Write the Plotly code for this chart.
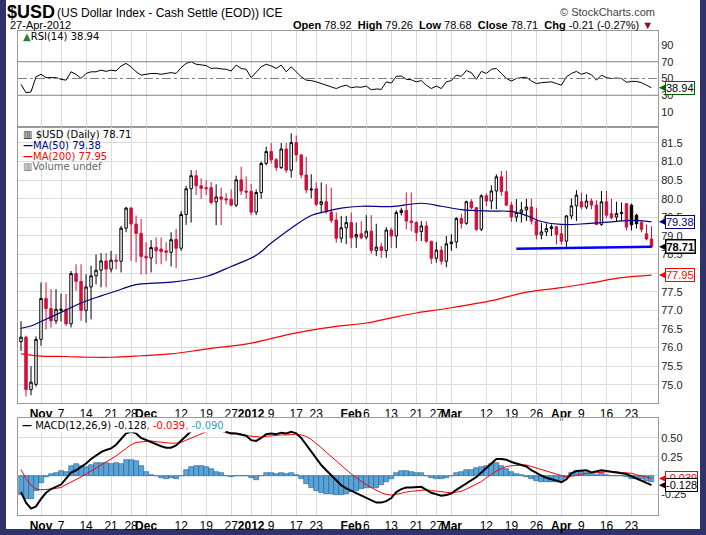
import pandas as pd
import plotly.graph_objects as go
from plotly.subplots import make_subplots

# ---- trading calendar (ICE closed on these weekdays) ----
holidays = ["2011-11-24", "2011-12-26", "2012-01-02", "2012-01-16", "2012-02-20", "2012-04-06"]
days = [d.strftime("%Y-%m-%d") for d in pd.bdate_range("2011-10-26", "2012-04-27")]
days = [d for d in days if d not in holidays]
pos = {d: i for i, d in enumerate(days)}
xs = list(range(len(days)))

# ---- $USD daily OHLC ----
opens = [76.16, 76.28, 74.87, 75.01, 76.22, 77.32, 77.05, 76.72, 77.00, 77.03,
         76.64, 77.99, 77.78, 77.00, 77.63, 77.93, 78.08, 78.33, 78.11, 78.35,
         78.32, 79.21, 79.75, 79.32, 79.07, 78.45, 78.41, 78.69, 78.65, 78.60,
         78.56, 78.91, 78.67, 79.58, 80.27, 80.62, 80.35, 80.30, 80.30, 79.92,
         80.05, 80.00, 79.99, 79.83, 80.51, 80.21, 80.20, 79.64, 80.17, 80.95,
         81.27, 81.05, 80.84, 81.34, 80.77, 81.51, 81.18, 80.64, 80.24, 80.27,
         79.85, 79.92, 79.64, 79.43, 78.94, 79.22, 79.36, 78.97, 79.06, 78.97,
         79.13, 78.61, 78.71, 78.61, 79.16, 79.00, 79.63, 79.69, 79.40, 79.36,
         79.12, 79.27, 78.86, 78.40, 78.62, 78.32, 78.79, 78.84, 79.47, 79.34,
         79.92, 79.76, 79.18, 80.08, 79.94, 80.21, 80.59, 80.19, 79.83, 79.51,
         79.63, 79.70, 79.78, 79.40, 79.03, 79.11, 79.20, 79.25, 79.06, 78.86,
         79.54, 79.81, 79.92, 79.78, 79.94, 79.83, 79.31, 79.92, 79.60, 79.51,
         79.60, 79.87, 79.83, 79.56, 79.36, 79.06, 78.92]
highs = [76.71, 76.32, 75.50, 76.30, 77.75, 77.75, 77.57, 77.57, 77.45, 77.44,
         78.06, 78.24, 78.24, 77.97, 78.20, 78.50, 78.54, 78.54, 78.60, 78.50,
         79.27, 79.78, 79.78, 79.55, 79.46, 78.83, 78.89, 78.96, 78.96, 78.83,
         79.10, 79.19, 79.67, 80.35, 80.77, 80.77, 80.55, 80.50, 80.45, 80.39,
         80.30, 80.15, 80.25, 80.62, 80.86, 80.60, 80.40, 80.25, 81.00, 81.40,
         81.50, 81.10, 81.50, 81.50, 81.76, 81.70, 81.20, 81.13, 80.66, 80.44,
         80.44, 80.39, 80.30, 79.63, 79.54, 79.54, 79.63, 79.36, 79.40, 79.56,
         79.56, 79.33, 78.82, 79.24, 79.22, 79.69, 79.76, 80.17, 80.17, 79.40,
         79.40, 79.40, 78.87, 78.84, 78.73, 79.00, 79.05, 79.51, 79.60, 79.95,
         79.99, 79.78, 80.12, 80.15, 80.36, 80.66, 80.75, 80.75, 79.92, 79.99,
         79.92, 80.00, 80.00, 79.76, 79.35, 79.34, 79.31, 79.26, 79.29, 79.56,
         80.01, 80.23, 80.17, 80.12, 80.01, 79.96, 80.21, 80.21, 80.00, 79.92,
         79.90, 79.87, 79.87, 79.60, 79.40, 79.31, 79.26]
lows = [75.91, 74.69, 74.72, 74.95, 76.05, 76.49, 76.54, 76.63, 76.70, 76.58,
        76.54, 77.53, 76.72, 76.67, 76.76, 77.70, 77.62, 77.62, 78.02, 78.10,
        78.02, 79.10, 78.33, 78.29, 77.97, 77.97, 78.02, 78.24, 78.24, 78.33,
        78.18, 78.14, 78.60, 79.30, 79.36, 80.10, 80.00, 80.10, 79.85, 79.29,
        79.29, 79.85, 79.80, 79.78, 80.10, 80.00, 79.56, 79.56, 80.00, 80.90,
        80.95, 80.75, 80.80, 80.70, 80.57, 81.00, 80.55, 80.15, 80.01, 79.80,
        79.63, 79.60, 79.35, 78.82, 78.82, 78.78, 78.68, 78.68, 78.91, 78.91,
        78.52, 78.46, 78.41, 78.41, 78.68, 78.67, 79.55, 79.18, 79.13, 78.86,
        78.86, 78.82, 78.25, 78.28, 78.23, 78.16, 78.60, 78.67, 79.20, 79.30,
        79.72, 79.13, 79.13, 79.80, 79.72, 79.72, 80.08, 79.81, 79.38, 79.38,
        79.36, 79.40, 79.31, 78.91, 78.91, 79.00, 79.00, 78.77, 78.77, 78.71,
        79.45, 79.40, 79.72, 79.72, 79.72, 79.30, 79.27, 79.49, 79.45, 79.40,
        79.40, 79.15, 79.15, 79.20, 79.10, 78.88, 78.68]
closes = [76.28, 74.87, 75.07, 76.22, 77.32, 77.05, 76.72, 77.03, 77.03, 76.64,
          77.99, 77.78, 77.00, 77.63, 77.93, 78.08, 78.33, 78.11, 78.35, 78.32,
          79.21, 79.75, 79.32, 79.07, 78.45, 78.41, 78.69, 78.60, 78.58, 78.56,
          78.90, 78.67, 79.58, 80.27, 80.62, 80.35, 80.28, 80.27, 79.90, 80.05,
          79.99, 79.97, 79.83, 80.51, 80.21, 80.18, 79.64, 80.17, 80.95, 81.27,
          81.05, 80.84, 81.34, 80.77, 81.51, 81.18, 80.64, 80.24, 80.26, 79.85,
          79.92, 79.65, 79.42, 78.94, 79.22, 79.36, 78.95, 79.04, 78.95, 79.13,
          78.61, 78.70, 78.61, 79.16, 79.00, 79.63, 79.69, 79.40, 79.36, 79.09,
          79.27, 78.86, 78.40, 78.62, 78.32, 78.79, 78.84, 79.47, 79.34, 79.92,
          79.76, 79.18, 80.08, 79.94, 80.21, 80.59, 80.19, 79.83, 79.51, 79.63,
          79.70, 79.78, 79.40, 79.03, 79.11, 79.20, 79.25, 79.04, 78.86, 79.54,
          79.81, 80.10, 79.78, 79.94, 79.83, 79.31, 79.92, 79.56, 79.49, 79.60,
          79.63, 79.24, 79.30, 79.33, 79.18, 78.92, 78.71]

# ---- moving averages (read at sample dates) ----
ma50_dates = ["2011-10-26", "2011-10-28", "2011-11-01", "2011-11-08", "2011-11-11", "2011-11-17",
              "2011-11-22", "2011-11-28", "2011-11-30", "2011-12-08", "2011-12-19", "2011-12-27",
              "2012-01-04", "2012-01-09", "2012-01-13", "2012-01-20", "2012-01-25", "2012-01-30",
              "2012-02-03", "2012-02-13", "2012-02-22", "2012-02-28", "2012-03-05", "2012-03-13",
              "2012-03-19", "2012-03-22", "2012-03-27", "2012-04-02", "2012-04-10", "2012-04-17",
              "2012-04-23", "2012-04-27"]
ma50_vals = [76.52, 76.58, 76.70, 77.01, 77.20, 77.39, 77.52, 77.66, 77.71, 77.76, 77.91, 78.18,
             78.48, 78.81, 79.21, 79.55, 79.66, 79.75, 79.80, 79.79, 79.88, 79.80, 79.71, 79.67,
             79.66, 79.55, 79.39, 79.31, 79.33, 79.38, 79.42, 79.38]
ma200_dates = ["2011-10-26", "2011-11-01", "2011-11-08", "2011-11-15", "2011-11-21", "2011-11-30",
               "2011-12-08", "2011-12-19", "2012-01-03", "2012-01-13", "2012-01-26", "2012-02-06",
               "2012-02-13", "2012-02-21", "2012-02-29", "2012-03-13", "2012-03-22", "2012-04-02",
               "2012-04-11", "2012-04-19", "2012-04-27"]
ma200_vals = [75.83, 75.77, 75.76, 75.74, 75.74, 75.78, 75.83, 75.96, 76.12, 76.37, 76.55, 76.66,
              76.80, 76.93, 77.05, 77.26, 77.49, 77.61, 77.74, 77.88, 77.95]

# support line drawn on the chart
trend_dates = ["2012-03-20", "2012-04-27"]
trend_vals = [78.66, 78.71]

# ---- RSI(14) ----
rsi = [43, 33, 34, 52, 55, 51, 51, 51, 49, 48,
       58, 55, 50, 56, 58, 58, 60, 58.5, 60, 59,
       65, 68, 64, 58, 54, 55, 56, 56, 55, 56,
       57, 56, 63, 68, 70, 67, 66, 65.5, 62, 62.5,
       61.5, 61, 59, 66, 62, 61, 51, 57, 64, 67,
       65, 62, 66, 58, 64, 58, 52, 48, 47.5, 46,
       44, 42, 40, 38, 40.5, 42, 39, 40, 39.5, 41,
       36.5, 37.5, 37, 46, 44.5, 52.5, 53, 49, 48.5, 46,
       47.5, 42, 38, 41, 38, 46, 47.5, 54, 52.5, 59.5,
       57, 49, 58.5, 56, 61, 62, 56, 50, 47, 50,
       51, 51.5, 47, 44, 45, 45.5, 46, 44, 42, 52,
       56, 58.5, 55, 57, 54.5, 48, 54, 51, 50, 50.5,
       50, 45.5, 46.5, 46.5, 45, 42, 38.94]

# ---- MACD(12,26,9) ----
macd = [-0.22, -0.36, -0.44, -0.41, -0.31, -0.23, -0.18, -0.15, -0.12, -0.04,
        0.04, 0.07, 0.11, 0.16, 0.22, 0.27, 0.31, 0.34, 0.36, 0.41,
        0.49, 0.56, 0.58, 0.56, 0.50, 0.47, 0.45, 0.42, 0.39, 0.37,
        0.37, 0.40, 0.46, 0.53, 0.59, 0.62, 0.65, 0.65, 0.63, 0.61,
        0.59, 0.57, 0.56, 0.56, 0.55, 0.53, 0.47, 0.46, 0.50, 0.55,
        0.56, 0.55, 0.57, 0.56, 0.58, 0.56, 0.50, 0.41, 0.31, 0.22,
        0.14, 0.07, 0.00, -0.07, -0.13, -0.17, -0.20, -0.23, -0.26, -0.29,
        -0.33, -0.36, -0.36, -0.34, -0.30, -0.22, -0.18, -0.16, -0.16, -0.16,
        -0.15, -0.19, -0.23, -0.25, -0.27, -0.26, -0.24, -0.19, -0.15, -0.10,
        -0.06, -0.02, 0.04, 0.10, 0.17, 0.22, 0.22, 0.21, 0.18, 0.16,
        0.15, 0.12, 0.07, 0.03, 0.00, -0.03, -0.05, -0.08, -0.09, -0.05,
        0.03, 0.06, 0.07, 0.07, 0.04, 0.05, 0.07, 0.06, 0.05, 0.04,
        0.03, 0.02, -0.01, -0.04, -0.06, -0.09, -0.128]
signal = [0.08, -0.04, -0.13, -0.18, -0.19, -0.19, -0.18, -0.17, -0.16, -0.12,
          -0.09, -0.06, -0.02, 0.02, 0.06, 0.10, 0.14, 0.17, 0.21, 0.26,
          0.31, 0.36, 0.41, 0.44, 0.45, 0.46, 0.46, 0.45, 0.44, 0.44,
          0.43, 0.43, 0.44, 0.47, 0.50, 0.53, 0.56, 0.58, 0.59, 0.60,
          0.59, 0.58, 0.57, 0.56, 0.55, 0.53, 0.52, 0.52, 0.51, 0.52,
          0.53, 0.53, 0.54, 0.54, 0.55, 0.55, 0.54, 0.52, 0.48, 0.43,
          0.37, 0.31, 0.25, 0.19, 0.13, 0.07, 0.02, -0.03, -0.08, -0.12,
          -0.16, -0.20, -0.23, -0.25, -0.26, -0.25, -0.24, -0.22, -0.21, -0.20,
          -0.19, -0.19, -0.20, -0.21, -0.22, -0.23, -0.23, -0.22, -0.21, -0.18,
          -0.15, -0.12, -0.08, -0.03, 0.02, 0.06, 0.09, 0.12, 0.13, 0.14,
          0.14, 0.14, 0.12, 0.10, 0.08, 0.05, 0.03, 0.01, -0.01, -0.02,
          -0.01, 0.00, 0.02, 0.03, 0.03, 0.04, 0.04, 0.05, 0.05, 0.05,
          0.04, 0.04, 0.03, 0.01, -0.01, -0.02, -0.039]
hist = [-0.26, -0.31, -0.31, -0.20, -0.10, -0.02, 0.02, 0.04, 0.06, 0.05,
        0.13, 0.15, 0.13, 0.12, 0.14, 0.17, 0.17, 0.16, 0.15, 0.16,
        0.15, 0.21, 0.21, 0.19, 0.13, 0.05, 0.01, -0.01, -0.03, -0.04,
        -0.03, -0.04, -0.01, 0.07, 0.12, 0.13, 0.13, 0.12, 0.09, 0.05,
        0.03, 0.00, -0.02, -0.01, -0.01, 0.00, -0.03, -0.06, -0.01, 0.03,
        0.03, 0.02, 0.03, 0.02, 0.03, 0.01, -0.04, -0.11, -0.17, -0.21,
        -0.23, -0.24, -0.25, -0.26, -0.26, -0.24, -0.22, -0.20, -0.18, -0.17,
        -0.17, -0.16, -0.13, -0.09, -0.04, 0.03, 0.06, 0.06, 0.05, 0.04,
        0.04, 0.00, -0.03, -0.04, -0.05, -0.03, -0.01, 0.03, 0.05, 0.07,
        0.08, 0.10, 0.11, 0.13, 0.15, 0.16, 0.13, 0.09, 0.05, 0.02,
        0.01, -0.02, -0.05, -0.07, -0.08, -0.08, -0.08, -0.09, -0.08, -0.03,
        0.04, 0.06, 0.05, 0.04, 0.01, 0.01, 0.03, 0.01, 0.00, -0.01,
        -0.01, -0.02, -0.04, -0.05, -0.05, -0.07, -0.09]

# ---- axis labels ----
tick_dates = ["2011-11-01", "2011-11-07", "2011-11-14", "2011-11-21", "2011-11-28", "2011-12-01",
              "2011-12-12", "2011-12-19", "2011-12-27", "2012-01-03", "2012-01-09", "2012-01-17",
              "2012-01-23", "2012-02-01", "2012-02-06", "2012-02-13", "2012-02-21", "2012-02-27",
              "2012-03-01", "2012-03-12", "2012-03-19", "2012-03-26", "2012-04-02", "2012-04-09",
              "2012-04-16", "2012-04-23"]
tick_text = ["<b>Nov</b>", "7", "14", "21", "28", "<b>Dec</b>", "12", "19", "27", "<b>2012</b>",
             "9", "17", "23", "<b>Feb</b>", "6", "13", "21", "27", "<b>Mar</b>", "12", "19", "26",
             "<b>Apr</b>", "9", "16", "23"]
month_dates = ["2011-11-01", "2011-12-01", "2012-01-03", "2012-02-01", "2012-03-01", "2012-04-02"]
price_ticks = [75.0, 75.5, 76.0, 76.5, 77.0, 77.5, 78.0, 78.5, 79.0, 79.5, 80.0, 80.5, 81.0, 81.5]
rsi_ticks = [10, 30, 50, 70, 90]
macd_ticks = [-0.25, 0.0, 0.25, 0.5]

RED = "#d0103a"
NAVY = "#000080"
FRAME = "#30336b"
GRID = "#dcdcdc"
TXT = "DejaVu Sans"
AX = "Liberation Sans"
NARROW = "Liberation Sans Narrow, Liberation Sans"

# figure pixel geometry (706 x 535)
L, R, T, B = 18, 658, 31, 515


def px(x):
    return (x - L) / (R - L)


def py(y):
    return (B - y) / (B - T)


fig = make_subplots(rows=3, cols=1, shared_xaxes=True, vertical_spacing=0)

# ---- candles grouped by StockCharts colouring ----
groups = {"up_black": [], "up_red": [], "dn_red": [], "dn_black": []}
for i in xs:
    prev = closes[i - 1] if i > 0 else opens[i]
    up = closes[i] >= opens[i]
    higher = closes[i] >= prev
    key = ("up_" if up else "dn_") + ("black" if higher else "red")
    groups[key].append(i)

styles = {"up_black": ("black", "white"), "up_red": (RED, "white"),
          "dn_red": (RED, RED), "dn_black": ("black", "black")}
for key, idx in groups.items():
    if not idx:
        continue
    lc, fc = styles[key]
    fig.add_trace(go.Candlestick(
        x=idx, open=[opens[i] for i in idx], high=[highs[i] for i in idx],
        low=[lows[i] for i in idx], close=[closes[i] for i in idx],
        increasing=dict(line=dict(color=lc, width=1), fillcolor=fc),
        decreasing=dict(line=dict(color=lc, width=1), fillcolor=fc),
        whiskerwidth=0, showlegend=False, hoverinfo="skip",
    ), row=2, col=1)

fig.add_trace(go.Scatter(x=[pos[d] for d in ma50_dates], y=ma50_vals, mode="lines",
                         line=dict(color=NAVY, width=1.2, shape="spline"),
                         showlegend=False, hoverinfo="skip"), row=2, col=1)
fig.add_trace(go.Scatter(x=[pos[d] for d in ma200_dates], y=ma200_vals, mode="lines",
                         line=dict(color="#ff0000", width=1.2, shape="spline"),
                         showlegend=False, hoverinfo="skip"), row=2, col=1)
fig.add_trace(go.Scatter(x=[pos[d] for d in trend_dates], y=trend_vals, mode="lines",
                         line=dict(color="#0000ff", width=2.5),
                         showlegend=False, hoverinfo="skip"), row=2, col=1)

# ---- RSI ----
fig.add_trace(go.Scatter(x=xs, y=rsi, mode="lines", line=dict(color="black", width=1),
                         showlegend=False, hoverinfo="skip"), row=1, col=1)
for lvl, dash in [(70, "solid"), (30, "solid"), (50, "dashdot")]:
    fig.add_hline(y=lvl, line=dict(color="#808080", width=1, dash=dash), row=1, col=1)

# ---- MACD ----
fig.add_trace(go.Bar(x=xs, y=hist, width=1.0,
                     marker=dict(color="#5ba3d6", line=dict(color="#1f5f8f", width=0.6)),
                     showlegend=False, hoverinfo="skip"), row=3, col=1)
fig.add_trace(go.Scatter(x=xs, y=signal, mode="lines", line=dict(color="#ff0000", width=1),
                         showlegend=False, hoverinfo="skip"), row=3, col=1)
fig.add_trace(go.Scatter(x=xs, y=macd, mode="lines", line=dict(color="black", width=2),
                         showlegend=False, hoverinfo="skip"), row=3, col=1)


# tick labels that sit right under a value tag are hidden, as on the original
def labels(ticks, covered, fmt):
    return ["" if any(abs(t - c) < 0.1 for c in covered) else format(t, fmt) for t in ticks]


# ---- axes ----
tickvals = [pos[d] for d in tick_dates]
fig.update_xaxes(range=[-0.6, 127.3], showgrid=True, gridcolor=GRID, gridwidth=1,
                 tickvals=tickvals, ticktext=tick_text, ticks="", tickangle=0, automargin=False,
                 tickfont=dict(family=NARROW, size=12, color="black"),
                 showline=True, mirror=True, linecolor="#9a9a9a", linewidth=1,
                 zeroline=False, rangeslider_visible=False)
fig.update_xaxes(showticklabels=False, row=1, col=1)
fig.update_xaxes(showticklabels=True, row=2, col=1)
fig.update_xaxes(showticklabels=True, row=3, col=1)

yax = dict(side="right", showline=True, mirror=True, linecolor="#9a9a9a", linewidth=1,
           ticks="", zeroline=False, automargin=False,
           tickfont=dict(family=AX, size=11, color="#222222"))
fig.update_yaxes(**yax)
fig.update_yaxes(range=[-7.9, 106.7], tickvals=rsi_ticks, showgrid=False, row=1, col=1)
fig.update_yaxes(range=[74.51, 81.93], tickvals=price_ticks,
                 ticktext=labels(price_ticks, [ma200_vals[-1]], ".1f"),
                 showgrid=True, gridcolor=GRID, row=2, col=1)
fig.update_yaxes(range=[-0.525, 0.765], tickvals=macd_ticks,
                 ticktext=labels(macd_ticks, [signal[-1]], ".2f"),
                 showgrid=True, gridcolor=GRID, row=3, col=1)

fig.update_layout(
    yaxis=dict(domain=[py(127), 1.0]),
    yaxis2=dict(domain=[py(403), py(127)]),
    yaxis3=dict(domain=[0.0, py(418)]),
)

# darker month separators
for d in month_dates:
    for r in (1, 2, 3):
        fig.add_vline(x=pos[d], line=dict(color="#b8b8b8", width=1), layer="below", row=r, col=1)

# ---- texts ----
ann = []


def text(x, y, s, size=11, family=TXT, color="black", anchor="left", **kw):
    ann.append(dict(x=px(x), y=py(y), xref="paper", yref="paper", text=s, showarrow=False,
                    xanchor=anchor, yanchor="middle", font=dict(family=family, size=size, color=color), **kw))


chg = closes[-1] - closes[-2]
text(5, 12, "<b>$USD</b>", size=18, family=NARROW)
text(55, 13, "(US Dollar Index - Cash Settle (EOD)) ICE", size=12, family=NARROW)
text(8, 25, "27-Apr-2012", size=11, family=NARROW)
text(657, 12, "© StockCharts.com", size=11, family=NARROW, color="#444444", anchor="right")
text(655, 25, f"<b>Open</b> {opens[-1]:.2f}  <b>High</b> {highs[-1]:.2f}  <b>Low</b> {lows[-1]:.2f}  "
              f"<b>Close</b> {closes[-1]:.2f}  <b>Chg</b> {chg:.2f} ({chg / closes[-2] * 100:.2f}%) "
              f"<span style='color:#8b0a2a'>▼</span>", size=11, family=NARROW, anchor="right")

text(21, 37, f"<span style='color:#2e7d32'>▲</span>RSI(14) {rsi[-1]:.2f}", size=10)
text(21, 134, f"▥ $USD (Daily) {closes[-1]:.2f}", size=10)
text(21, 145, f"<b>—</b>MA(50) {ma50_vals[-1]:.2f}", size=10, color=NAVY)
text(21, 156, f"<b>—</b>MA(200) {ma200_vals[-1]:.2f}", size=10, color="#ff0000")
text(21, 167, "▥Volume undef", size=10, color="#666666")
text(20, 425, f"<b>—</b> MACD(12,26,9) {macd[-1]:.3f}<span style='color:#ff0000'>, {signal[-1]:.3f}</span>"
              f"<span style='color:#3399cc'>, {hist[-1]:.3f}</span>", size=10, bgcolor="white")

# value tags on the right axis, with a small pointer towards the plot
tags = [("y", rsi[-1], f"{rsi[-1]:.2f}", "#006400", "#000000", False),
        ("y2", ma50_vals[-1], f"{ma50_vals[-1]:.2f}", NAVY, NAVY, False),
        ("y2", closes[-1], f"{closes[-1]:.2f}", "black", "black", True),
        ("y2", ma200_vals[-1], f"{ma200_vals[-1]:.2f}", "#ff0000", "#ff0000", False),
        ("y3", signal[-1], f"{signal[-1]:.3f}", "#ff0000", "#ff0000", False),
        ("y3", macd[-1], f"{macd[-1]:.3f}", "black", "black", False)]
for yref, val, s, bc, tc, bold in tags:
    ann.append(dict(x=px(659), y=val, xref="paper", yref=yref, text=f"<b>{s}</b>" if bold else s,
                    showarrow=True, ax=6, ay=0, arrowhead=2, arrowsize=1, arrowwidth=1.2,
                    arrowcolor=bc, standoff=0, startstandoff=0,
                    xanchor="left", yanchor="middle", bgcolor="white",
                    bordercolor=bc, borderwidth=1.5 if bold else 1, borderpad=0,
                    font=dict(family=AX, size=11, color=tc)))

fig.update_layout(
    width=706, height=535,
    margin=dict(l=L, r=706 - R, t=T, b=535 - B),
    paper_bgcolor=FRAME, plot_bgcolor="white",
    bargap=0, showlegend=False,
    annotations=ann,
    shapes=list(fig.layout.shapes) + [dict(type="rect", xref="paper", yref="paper",
                                           x0=px(6), x1=px(700), y0=py(529), y1=py(-5),
                                           fillcolor="white", line=dict(width=0), layer="below")],
)

# the page's default body margin would shift the fixed-size figure
fig.write_html("out.html", config={"displayModeBar": False},
               post_script="document.body.style.margin='0';")
